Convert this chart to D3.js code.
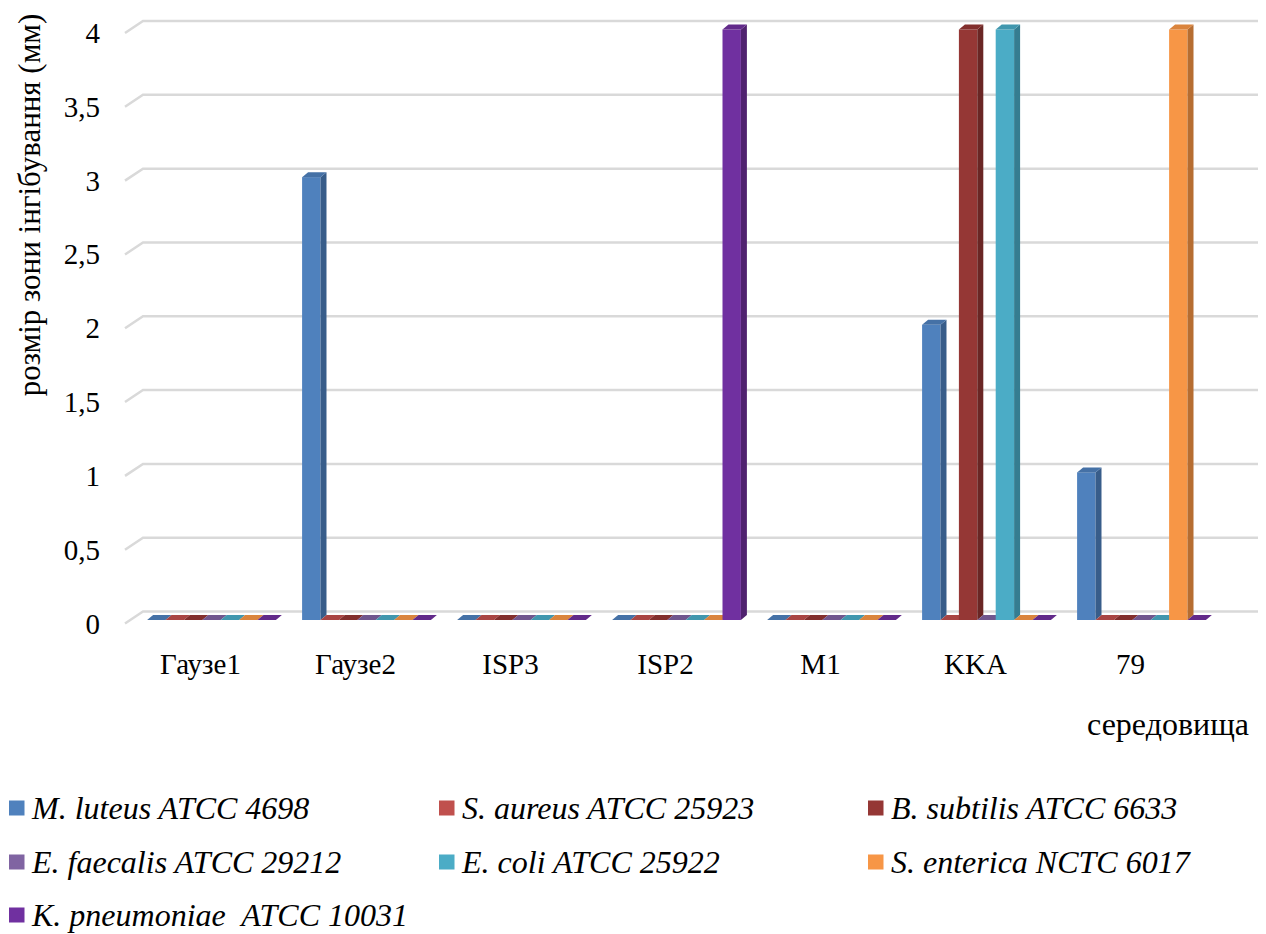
<!DOCTYPE html>
<html>
<head>
<meta charset="utf-8">
<script src="https://cdn.jsdelivr.net/npm/d3@7/dist/d3.min.js"></script>
<style>
  html, body { margin: 0; padding: 0; background: #fff; }
  svg { display: block; }
</style>
</head>
<body>
<svg id="chart" width="1266" height="934"></svg>
<script>
// Media (x categories)
const categories = ["Гаузе1", "Гаузе2", "ISP3", "ISP2", "M1", "KKA", "79"];

// Test strains (series)
const seriesNames = [
  "M. luteus ATCC 4698",
  "S. aureus ATCC 25923",
  "B. subtilis ATCC 6633",
  "E. faecalis ATCC 29212",
  "E. coli ATCC 25922",
  "S. enterica NCTC 6017",
  "K. pneumoniae  ATCC 10031"
];

// Inhibition zone size (mm), one array per strain, ordered by medium
const mLuteus     = [0, 3, 0, 0, 0, 2, 1];
const sAureus     = [0, 0, 0, 0, 0, 0, 0];
const bSubtilis   = [0, 0, 0, 0, 0, 4, 0];
const eFaecalis   = [0, 0, 0, 0, 0, 0, 0];
const eColi       = [0, 0, 0, 0, 0, 4, 0];
const sEnterica   = [0, 0, 0, 0, 0, 0, 4];
const kPneumoniae = [0, 0, 0, 4, 0, 0, 0];
const seriesValues = [mLuteus, sAureus, bSubtilis, eFaecalis, eColi, sEnterica, kPneumoniae];

const yTicks = [0, 0.5, 1, 1.5, 2, 2.5, 3, 3.5, 4];
const yTitle = "розмір зони інгібування (мм)";
const xTitle = "середовища";

// Face colours: front, side
const colors = ["#4F81BD", "#C0504D", "#953735", "#8064A2", "#4BACC6", "#F79646", "#7030A0"];
const sides  = ["#385D8A", "#8C3836", "#6A2624", "#5C4776", "#357D91", "#B66D31", "#50226F"];

const FONT = "'Liberation Serif', 'Times New Roman', serif";

const svg = d3.select("#chart");

// 3D geometry
const barDX = 6, barDY = -5;     // depth of each column
const wallDX = 18, wallDY = -12;  // depth of the floor up to the back wall
const wallOffY = 8.5;             // from column front plane to back wall
const wallRight = 1258;

const y = d3.scaleLinear().domain([0, 4]).range([620, 29.5]);

const x0 = d3.scaleBand().domain(categories).range([134, 1219])
  .paddingInner(0.169).paddingOuter(0.0845);
const x1 = d3.scaleBand().domain(d3.range(seriesNames.length)).range([0, x0.bandwidth()]);

// Back-wall gridlines with their floor-edge diagonal
const grid = svg.append("g");
yTicks.forEach(t => {
  const yb = y(t) - wallOffY;
  const xb = 125 + wallDX;
  grid.append("path")
    .attr("d", `M${xb - wallDX},${yb - wallDY} L${xb},${yb} L${wallRight},${yb}`)
    .attr("fill", "none").attr("stroke", "#D9D9D9").attr("stroke-width", 2.5);
});

// Y tick labels
svg.append("g").selectAll("text").data(yTicks).join("text")
  .attr("x", 100).attr("y", d => y(d) - wallOffY - wallDY + 10)
  .attr("text-anchor", "end").attr("font-size", 29).style("font-family", FONT)
  .text(d => String(d).replace(".", ","));

// Columns
const bars = svg.append("g");
categories.forEach((cat, ci) => {
  seriesValues.forEach((vals, si) => {
    const v = vals[ci];
    const bx = x0(cat) + x1(si);
    const bw = x1.bandwidth();
    const yt = y(v), yb = y(0);
    const g = bars.append("g");
    const topColor = d3.interpolateRgb(colors[si], sides[si])(0.45);
    if (v > 0) {
      g.append("rect").attr("x", bx).attr("y", yt).attr("width", bw).attr("height", yb - yt)
        .attr("fill", colors[si]);
      g.append("path")
        .attr("d", `M${bx + bw},${yt} L${bx + bw + barDX},${yt + barDY} L${bx + bw + barDX},${yb + barDY} L${bx + bw},${yb}Z`)
        .attr("fill", sides[si]);
    }
    g.append("path")
      .attr("d", `M${bx},${yt} L${bx + barDX},${yt + barDY} L${bx + bw + barDX},${yt + barDY} L${bx + bw},${yt}Z`)
      .attr("fill", topColor);
  });
});

// Category labels
svg.append("g").selectAll("text").data(categories).join("text")
  .attr("x", d => x0(d) + x0.bandwidth() / 2 - 11).attr("y", 674)
  .attr("text-anchor", "middle").attr("font-size", 29).style("font-family", FONT)
  .text(d => d);

// Axis titles
svg.append("text")
  .attr("transform", "translate(40,205) rotate(-90)")
  .attr("text-anchor", "middle").attr("font-size", 31).style("font-family", FONT)
  .text(yTitle);

svg.append("text")
  .attr("x", 1249).attr("y", 735).attr("text-anchor", "end").attr("font-size", 32)
  .style("font-family", FONT)
  .text(xTitle);

// Legend
const legCols = [9, 439, 868];
const legRows = [808, 862, 915];
const legend = svg.append("g");
seriesNames.forEach((name, i) => {
  const cx = legCols[i % 3], cy = legRows[Math.floor(i / 3)];
  legend.append("rect").attr("x", cx).attr("y", cy - 7.5).attr("width", 15.5).attr("height", 15)
    .attr("fill", colors[i]);
  legend.append("text").attr("x", cx + 23).attr("y", cy + 11)
    .attr("font-size", 32).attr("font-style", "italic").style("font-family", FONT)
    .style("white-space", "pre")
    .text(name);
});
</script>
</body>
</html>
